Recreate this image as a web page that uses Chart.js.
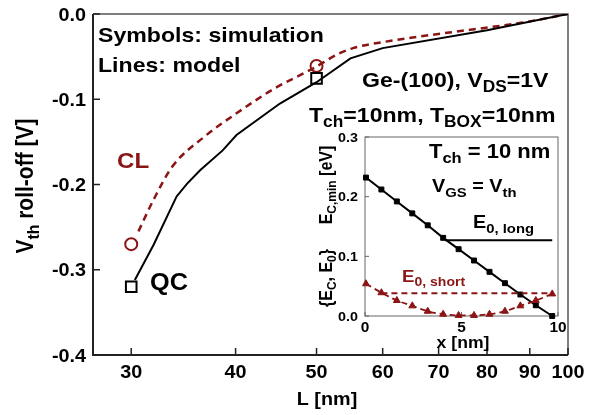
<!DOCTYPE html>
<html>
<head>
<meta charset="utf-8">
<script src="https://cdn.jsdelivr.net/npm/chart.js@4.4.1/dist/chart.umd.min.js"></script>
<style>
  body { margin: 0; background: #fff; }
  #wrap { position: relative; width: 606px; height: 415px; }
  #main { position: absolute; left: 0; top: 0; }
  #inset { position: absolute; left: 300px; top: 120px; }
</style>
</head>
<body>
<div id="wrap">
  <canvas id="main" width="606" height="415"></canvas>
  <canvas id="inset" width="270" height="240"></canvas>
</div>
<script>
// main plot: Vth roll-off vs gate length
const lTicks = [30, 40, 50, 60, 70, 80, 90, 100];
const vTicks = [0, -0.1, -0.2, -0.3, -0.4];

const qcModelL = [30.3, 31.9, 34.0, 35.0, 36.3, 38.6, 40.1, 45.2, 50.0, 54.9, 60, 80, 100];
const qcModelV = [-0.312, -0.271, -0.214, -0.199, -0.183, -0.16, -0.142, -0.105, -0.08, -0.052, -0.040, -0.019, 0];
const clModelL = [30.6, 31.9, 33.6, 36.7, 40.1, 44.6, 49.5, 53.3, 55.3, 60.4, 73, 88.3, 100];
const clModelV = [-0.255, -0.218, -0.179, -0.144, -0.1165, -0.087, -0.064, -0.046, -0.040, -0.0325, -0.021, -0.010, 0];
const simL = [30, 50];
const qcSimV = [-0.32, -0.0755];
const clSimV = [-0.27, -0.061];

// inset: band edge along the channel
const xTicksIn = [0, 5, 10];
const eTicksIn = [0, 0.1, 0.2, 0.3];
const posX = [0.05, 0.85, 1.65, 2.45, 3.25, 4.05, 4.85, 5.65, 6.45, 7.25, 8.05, 8.85, 9.7];
const ecLong = [0.232, 0.212, 0.192, 0.172, 0.152, 0.131, 0.112, 0.093, 0.074, 0.055, 0.036, 0.018, 0.0];
const ecShort = [0.054, 0.039, 0.026, 0.017, 0.008, 0.003, 0.001, 0.001, 0.003, 0.008, 0.017, 0.026, 0.037];
const e0LongX = [4.15, 9.7];
const e0LongY = [0.127, 0.127];
const e0ShortX = [0.85, 9.7];
const e0ShortY = [0.038, 0.038];

const RED = "#8b1414";
const FONT = '"Liberation Sans", Arial, sans-serif';
const SX = 1.1;

const pts = (xs, ys) => xs.map((x, i) => ({ x: x, y: ys[i] }));

// text with subscripts, parts = [[text, isSub], ...]
function drawRich(ctx, parts, x, y, size, color, align, rot) {
  ctx.save();
  ctx.translate(x, y);
  ctx.scale(SX, 1);
  if (rot) ctx.rotate(-Math.PI / 2);
  ctx.fillStyle = color;
  ctx.textBaseline = "alphabetic";
  ctx.textAlign = "left";
  let w = 0;
  parts.forEach((p) => {
    ctx.font = "bold " + (p[1] ? size * 0.75 : size) + "px " + FONT;
    w += ctx.measureText(p[0]).width;
  });
  let cx = align === "center" ? -w / 2 : align === "right" ? -w : 0;
  parts.forEach((p) => {
    ctx.font = "bold " + (p[1] ? size * 0.75 : size) + "px " + FONT;
    ctx.fillText(p[0], cx, p[1] ? size * 0.25 : 0);
    cx += ctx.measureText(p[0]).width;
  });
  ctx.restore();
}

const mainDecor = {
  id: "mainDecor",
  beforeDatasetsDraw(chart) {
    const ctx = chart.ctx;
    const ca = chart.chartArea;
    const xs = chart.scales.x;
    const ys = chart.scales.y;
    ctx.save();
    ctx.strokeStyle = "#555";
    ctx.lineWidth = 1.5;
    ctx.beginPath();
    ctx.moveTo(ca.left, ca.top);
    ctx.lineTo(ca.right, ca.top);
    ctx.lineTo(ca.right, ca.bottom);
    ctx.stroke();
    ctx.strokeStyle = "#222";
    ctx.lineWidth = 2;
    ctx.beginPath();
    ctx.moveTo(ca.left, ca.top);
    ctx.lineTo(ca.left, ca.bottom);
    ctx.lineTo(ca.right, ca.bottom);
    ctx.stroke();
    ctx.lineWidth = 1.5;
    lTicks.forEach((v) => {
      const px = xs.getPixelForValue(v);
      ctx.beginPath();
      ctx.moveTo(px, ca.bottom);
      ctx.lineTo(px, ca.bottom - 7);
      ctx.stroke();
    });
    vTicks.forEach((v) => {
      const py = ys.getPixelForValue(v);
      ctx.beginPath();
      ctx.moveTo(ca.left, py);
      ctx.lineTo(ca.left + 7, py);
      ctx.stroke();
    });
    ctx.restore();
  },
  afterDraw(chart) {
    const ctx = chart.ctx;
    const ca = chart.chartArea;
    const xs = chart.scales.x;
    const ys = chart.scales.y;
    lTicks.forEach((v) => {
      drawRich(ctx, [[String(v)]], xs.getPixelForValue(v), 378, 18, "#000", "center");
    });
    vTicks.forEach((v) => {
      drawRich(ctx, [[v.toFixed(1)]], ca.left - 7, ys.getPixelForValue(v) + 6.5, 18, "#000", "right");
    });
    drawRich(ctx, [["L [nm]"]], 327, 405, 18, "#000", "center");
    drawRich(ctx, [["V"], ["th", 1], [" roll-off [V]"]], 33, 186, 21, "#000", "center", true);

    drawRich(ctx, [["Symbols: simulation"]], 98, 42, 21, "#000", "left");
    drawRich(ctx, [["Lines: model"]], 98, 72, 21, "#000", "left");
    drawRich(ctx, [["CL"]], 117, 168, 22, RED, "left");
    drawRich(ctx, [["QC"]], 150, 290, 23, "#000", "left");
    drawRich(ctx, [["Ge-(100), V"], ["DS", 1], ["=1V"]], 362, 87, 21, "#000", "left");
    drawRich(ctx, [["T"], ["ch", 1], ["=10nm, T"], ["BOX", 1], ["=10nm"]], 309, 122, 21, "#000", "left");
  }
};

new Chart(document.getElementById("main"), {
  type: "scatter",
  data: {
    datasets: [
      {
        data: pts(qcModelL, qcModelV),
        showLine: true,
        borderColor: "#000",
        borderWidth: 2,
        pointRadius: 0
      },
      {
        data: pts(clModelL, clModelV),
        showLine: true,
        borderColor: RED,
        borderWidth: 2.5,
        borderDash: [7, 5],
        cubicInterpolationMode: "monotone",
        pointRadius: 0
      },
      {
        data: pts(simL, qcSimV),
        pointStyle: "rect",
        pointRadius: 7.5,
        borderColor: "#000",
        borderWidth: 2,
        backgroundColor: "rgba(0,0,0,0)",
        clip: false
      },
      {
        data: pts(simL, clSimV),
        pointStyle: "circle",
        pointRadius: 6,
        borderColor: RED,
        borderWidth: 2,
        backgroundColor: "rgba(0,0,0,0)",
        clip: false
      }
    ]
  },
  options: {
    responsive: false,
    animation: false,
    layout: { padding: { left: 93, right: 38, top: 14, bottom: 60 } },
    plugins: { legend: { display: false }, tooltip: { enabled: false } },
    scales: {
      x: { type: "logarithmic", min: 27, max: 100, display: false },
      y: { type: "linear", min: -0.4, max: 0, display: false }
    }
  },
  plugins: [mainDecor]
});

const insetDecor = {
  id: "insetDecor",
  beforeDatasetsDraw(chart) {
    const ctx = chart.ctx;
    const ca = chart.chartArea;
    const xs = chart.scales.x;
    const ys = chart.scales.y;
    ctx.save();
    ctx.strokeStyle = "#666";
    ctx.lineWidth = 1;
    ctx.strokeRect(ca.left, ca.top, ca.right - ca.left, ca.bottom - ca.top);
    xTicksIn.forEach((v) => {
      const px = xs.getPixelForValue(v);
      ctx.beginPath();
      ctx.moveTo(px, ca.bottom);
      ctx.lineTo(px, ca.bottom - 4);
      ctx.stroke();
    });
    eTicksIn.forEach((v) => {
      const py = ys.getPixelForValue(v);
      ctx.beginPath();
      ctx.moveTo(ca.left, py);
      ctx.lineTo(ca.left + 4, py);
      ctx.stroke();
    });
    ctx.restore();
  },
  afterDraw(chart) {
    const ctx = chart.ctx;
    const ca = chart.chartArea;
    const xs = chart.scales.x;
    const ys = chart.scales.y;
    xTicksIn.forEach((v) => {
      drawRich(ctx, [[String(v)]], xs.getPixelForValue(v), 212, 14, "#000", "center");
    });
    eTicksIn.forEach((v) => {
      drawRich(ctx, [[v.toFixed(1)]], ca.left - 7, ys.getPixelForValue(v) + 4.5, 13, "#000", "right");
    });
    drawRich(ctx, [["x [nm]"]], 163, 228, 16, "#000", "center");
    drawRich(ctx, [["E"], ["C,min", 1], [" [eV]"]], 32, 65, 16, "#000", "center", true);
    drawRich(ctx, [["{E"], ["C", 1], [", E"], ["0", 1], ["}"]], 32, 158, 16, "#000", "center", true);

    drawRich(ctx, [["T"], ["ch", 1], [" = 10 nm"]], 129, 38, 20, "#000", "left");
    drawRich(ctx, [["V"], ["GS", 1], [" = V"], ["th", 1]], 132, 72, 18, "#000", "left");
    drawRich(ctx, [["E"], ["0, long", 1]], 173, 108, 18, "#000", "left");
    drawRich(ctx, [["E"], ["0, short", 1]], 102, 162, 17, RED, "left");
  }
};

new Chart(document.getElementById("inset"), {
  type: "scatter",
  data: {
    datasets: [
      {
        data: pts(e0LongX, e0LongY),
        showLine: true,
        borderColor: "#000",
        borderWidth: 2,
        pointRadius: 0
      },
      {
        data: pts(e0ShortX, e0ShortY),
        showLine: true,
        borderColor: RED,
        borderWidth: 2,
        borderDash: [6, 4],
        pointRadius: 0
      },
      {
        data: pts(posX, ecShort),
        showLine: true,
        borderColor: RED,
        borderWidth: 1.8,
        borderDash: [6, 4],
        cubicInterpolationMode: "monotone",
        pointStyle: "triangle",
        pointRadius: 4,
        backgroundColor: RED,
        pointBorderColor: RED,
        pointBorderWidth: 1,
        clip: false
      },
      {
        data: pts(posX, ecLong),
        showLine: true,
        borderColor: "#000",
        borderWidth: 2,
        pointStyle: "rect",
        pointRadius: 3.5,
        backgroundColor: "#000",
        pointBorderColor: "#000",
        pointBorderWidth: 1,
        clip: false
      }
    ]
  },
  options: {
    responsive: false,
    animation: false,
    layout: { padding: { left: 65, right: 12, top: 17, bottom: 44 } },
    plugins: { legend: { display: false }, tooltip: { enabled: false } },
    scales: {
      x: { type: "linear", min: 0, max: 10, display: false },
      y: { type: "linear", min: 0, max: 0.3, display: false }
    }
  },
  plugins: [insetDecor]
});
</script>
</body>
</html>
